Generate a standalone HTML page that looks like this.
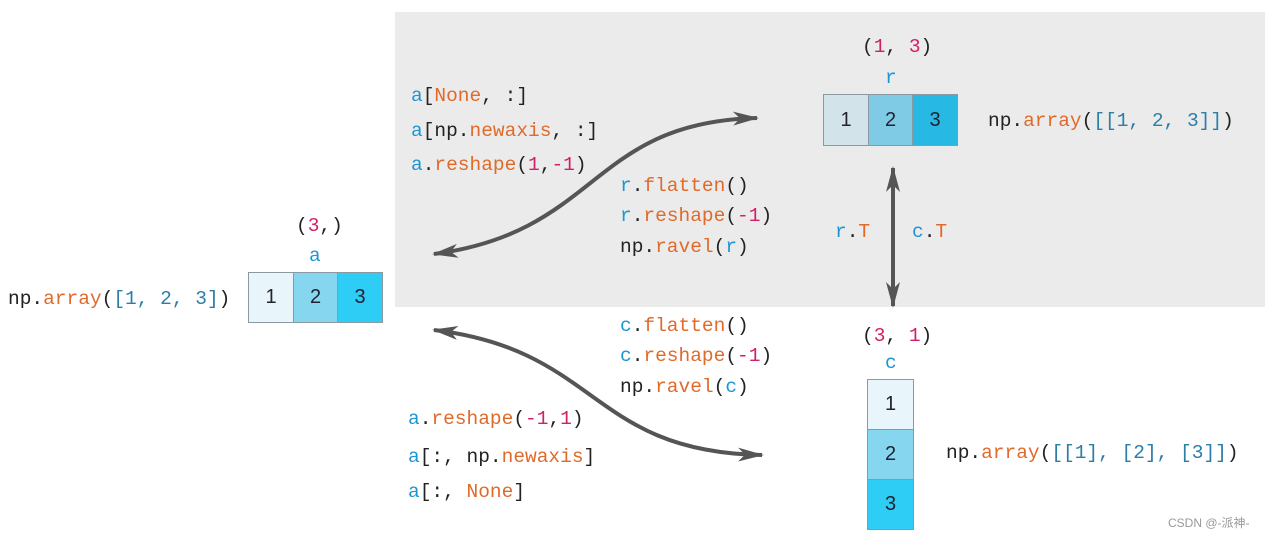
<!DOCTYPE html>
<html><head><meta charset="utf-8"><style>
html,body{margin:0;padding:0;background:#fff;}
body{width:1270px;height:539px;position:relative;overflow:hidden;font-family:"Liberation Mono",monospace;font-size:19.5px;color:#222;}
.t{position:absolute;white-space:pre;line-height:24px;height:24px;}
.b{color:#1b96d3}.o{color:#e06a2a}.p{color:#d01f68}.l{color:#2a7ea8}
.cell{position:absolute;box-sizing:border-box;border:1.5px solid #8a9aa0;font-family:"Liberation Sans",sans-serif;font-size:20px;color:#223;display:flex;align-items:center;justify-content:center;}
</style></head><body>
<div style="position:absolute;left:395px;top:12px;width:870px;height:295px;background:#ebebeb;"></div>
<svg width="1270" height="539" style="position:absolute;left:0;top:0">
<defs><marker id="m" viewBox="0 0 26 14" refX="24" refY="7" markerWidth="26" markerHeight="14" markerUnits="userSpaceOnUse" orient="auto-start-reverse"><path d="M0,0 L26,7 L0,14 L7,7 Z" fill="#555"/></marker></defs>
<g stroke="#555" stroke-width="4" fill="none">
<path d="M434 254 C 600 232, 590 122, 757 118" marker-start="url(#m)" marker-end="url(#m)"/>
<path d="M434 330 C 600 350, 590 452, 762 455" marker-start="url(#m)" marker-end="url(#m)"/>
<path d="M893 168 L893 306" marker-start="url(#m)" marker-end="url(#m)"/>
</g></svg>

<div class="t" style="left:411px;top:84px"><span class="b">a</span>[<span class="o">None</span>, :]</div>
<div class="t" style="left:411px;top:119px"><span class="b">a</span>[np.<span class="o">newaxis</span>, :]</div>
<div class="t" style="left:411px;top:153px"><span class="b">a</span>.<span class="o">reshape</span>(<span class="p">1</span>,<span class="p">-1</span>)</div>
<div class="t" style="left:620px;top:174px"><span class="b">r</span>.<span class="o">flatten</span>()</div>
<div class="t" style="left:620px;top:204px"><span class="b">r</span>.<span class="o">reshape</span>(<span class="p">-1</span>)</div>
<div class="t" style="left:620px;top:235px">np.<span class="o">ravel</span>(<span class="b">r</span>)</div>

<div class="t" style="left:296px;top:214px">(<span class="p">3</span>,)</div>
<div class="t b" style="left:309px;top:244px">a</div>
<div class="cell" style="left:248px;top:272px;width:46px;height:51px;background:#e8f6fb">1</div>
<div class="cell" style="left:293px;top:272px;width:45px;height:51px;background:#86d6f0">2</div>
<div class="cell" style="left:337px;top:272px;width:46px;height:51px;background:#2dcdf5">3</div>
<div class="t" style="left:8px;top:287px">np.<span class="o">array</span>(<span class="l">[1, 2, 3]</span>)</div>

<div class="t" style="left:862px;top:35px">(<span class="p">1</span>, <span class="p">3</span>)</div>
<div class="t b" style="left:885px;top:66px">r</div>
<div class="cell" style="left:823px;top:94px;width:46px;height:52px;background:#d3e3ea">1</div>
<div class="cell" style="left:868px;top:94px;width:45px;height:52px;background:#7fcbe6">2</div>
<div class="cell" style="left:912px;top:94px;width:46px;height:52px;background:#27b9e3">3</div>
<div class="t" style="left:988px;top:109px">np.<span class="o">array</span>(<span class="l">[[1, 2, 3]]</span>)</div>

<div class="t" style="left:835px;top:220px"><span class="b">r</span>.<span class="o">T</span></div>
<div class="t" style="left:912px;top:220px"><span class="b">c</span>.<span class="o">T</span></div>

<div class="t" style="left:620px;top:314px"><span class="b">c</span>.<span class="o">flatten</span>()</div>
<div class="t" style="left:620px;top:344px"><span class="b">c</span>.<span class="o">reshape</span>(<span class="p">-1</span>)</div>
<div class="t" style="left:620px;top:375px">np.<span class="o">ravel</span>(<span class="b">c</span>)</div>

<div class="t" style="left:862px;top:324px">(<span class="p">3</span>, <span class="p">1</span>)</div>
<div class="t b" style="left:885px;top:351px">c</div>
<div class="cell" style="left:867px;top:379px;width:47px;height:51px;background:#e8f6fb">1</div>
<div class="cell" style="left:867px;top:429px;width:47px;height:51px;background:#86d6f0">2</div>
<div class="cell" style="left:867px;top:479px;width:47px;height:51px;background:#2dcdf5">3</div>
<div class="t" style="left:946px;top:441px">np.<span class="o">array</span>(<span class="l">[[1], [2], [3]]</span>)</div>

<div class="t" style="left:408px;top:407px"><span class="b">a</span>.<span class="o">reshape</span>(<span class="p">-1</span>,<span class="p">1</span>)</div>
<div class="t" style="left:408px;top:445px"><span class="b">a</span>[:, np.<span class="o">newaxis</span>]</div>
<div class="t" style="left:408px;top:480px"><span class="b">a</span>[:, <span class="o">None</span>]</div>

<div style="position:absolute;left:1168px;top:514px;font-family:'Liberation Sans','Noto Sans CJK SC',sans-serif;font-size:12px;color:#999;">CSDN @-派神-</div>
</body></html>
